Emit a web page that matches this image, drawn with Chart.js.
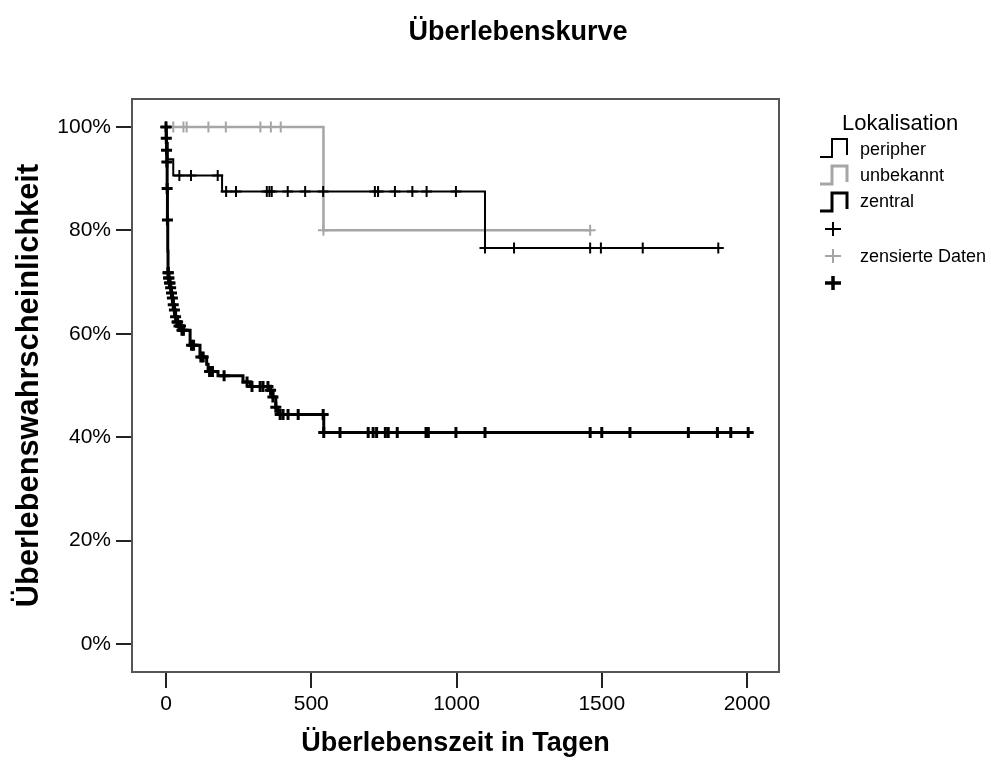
<!DOCTYPE html>
<html>
<head>
<meta charset="utf-8">
<script src="https://cdn.jsdelivr.net/npm/chart.js@4.4.0/dist/chart.umd.min.js"></script>
<style>
  html, body { margin: 0; padding: 0; background: #ffffff; }
  #wrap { position: relative; width: 991px; height: 760px; }
  #chart { position: absolute; left: 0; top: 0; }
  #overlay { position: absolute; left: 0; top: 0; pointer-events: none; }
  #overlay text { font-family: 'Liberation Sans', Arial, sans-serif; fill: #000; }
</style>
</head>
<body>
<div id="wrap">
  <canvas id="chart" width="991" height="760"></canvas>
  <svg id="overlay" width="991" height="760" xmlns="http://www.w3.org/2000/svg">
    <text x="518" y="31" text-anchor="middle" dominant-baseline="central" font-size="27" font-weight="bold">Überlebenskurve</text>
    <text x="842" y="122" dominant-baseline="central" font-size="22">Lokalisation</text>
    <path d="M820,157 H832 V139 H847 V155" fill="none" stroke="#000" stroke-width="2"/>
    <text x="860" y="149" dominant-baseline="central" font-size="18">peripher</text>
    <path d="M820,184 H832 V166 H847 V182" fill="none" stroke="#a6a6a6" stroke-width="3"/>
    <text x="860" y="175" dominant-baseline="central" font-size="18">unbekannt</text>
    <path d="M820,211 H832 V193 H847 V209" fill="none" stroke="#000" stroke-width="3"/>
    <text x="860" y="201" dominant-baseline="central" font-size="18">zentral</text>
    <path d="M825,229 H841 M833,222 V236" stroke="#000" stroke-width="2"/>
    <path d="M825,256 H841 M833,249 V263" stroke="#a6a6a6" stroke-width="2"/>
    <text x="860" y="256" dominant-baseline="central" font-size="18">zensierte Daten</text>
    <path d="M825,283 H841 M833,276 V290" stroke="#000" stroke-width="3.5"/>
  </svg>
</div>
<script>
const FONT = "'Liberation Sans', Arial, sans-serif";

// Tick values
const xTickValues = [0, 500, 1000, 1500, 2000];
const yTickValues = [0, 20, 40, 60, 80, 100];

// Series: peripher (times in days, survival in %)
const periphTimes = [0, 1, 6, 25, 193, 1098, 1901];
const periphSurv  = [100, 96.9, 93.75, 90.6, 87.5, 76.6, 76.6];
const periphCensored = [0, 46, 86, 178, 207, 241, 347, 356, 364, 419, 479, 541, 719, 730, 788, 848, 897, 998, 1098, 1198, 1460, 1497, 1641, 1901];

// Series: unbekannt
const unbekTimes = [0, 542, 1460];
const unbekSurv  = [100, 80, 80];
const unbekCensored = [0, 25, 60, 71, 146, 206, 325, 361, 395, 542, 1460];

// Series: zentral
const zentTimes = [0, 1, 2, 3, 4, 5, 6, 7, 9, 12, 16, 19, 22, 25, 29, 33, 38, 45, 55, 83, 117, 140, 145, 179, 265, 290, 355, 368, 378, 385, 543, 2004];
const zentSurv  = [100, 97.8, 95.5, 93.2, 88.1, 82.0, 76.0, 71.8, 70.8, 69.8, 68.9, 67.9, 66.9, 65.6, 64.6, 63.3, 62.3, 61.5, 60.7, 57.8, 55.5, 54.1, 52.7, 51.9, 50.7, 49.8, 49.1, 47.8, 45.8, 44.4, 40.9, 40.9];
const zentCensored = [0, 1, 2, 3, 4, 5, 7, 8, 9, 10, 12, 14, 16, 19, 22, 25, 29, 33, 38, 40, 45, 50, 55, 60, 88, 95, 120, 128, 150, 160, 200, 279, 296, 324, 334, 351, 360, 368, 378, 393, 403, 420, 455, 541, 543, 599, 696, 713, 725, 755, 765, 796, 895, 900, 903, 998, 1098, 1460, 1500, 1597, 1798, 1898, 1944, 2004];

function stepValue(times, surv, t) {
  let v = surv[0];
  for (let i = 0; i < times.length; i++) if (times[i] <= t) v = surv[i];
  return v;
}
function curve(times, surv) { return times.map((t, i) => ({ x: t, y: surv[i] })); }
function marks(times, surv, cens) { return cens.map(t => ({ x: t, y: stepValue(times, surv, t) })); }

const BLACK = '#000000';
const GREY = '#a6a6a6';

function stepDs(label, data, color, width, order) {
  return { label, data, borderColor: color, backgroundColor: color, borderWidth: width,
           stepped: 'before', pointRadius: 0, pointHoverRadius: 0, fill: false, order };
}
function markDs(label, data, color, width, order) {
  return { label, data, showLine: false, pointStyle: 'cross', pointRadius: 5.5, pointHoverRadius: 5.5,
           pointBorderColor: color, pointBackgroundColor: color, pointBorderWidth: width,
           borderColor: color, backgroundColor: color, order };
}

const boxPlugin = {
  id: 'box',
  afterDatasetsDraw(chart) {
    const a = chart.chartArea, ctx = chart.ctx;
    ctx.save();
    ctx.strokeStyle = '#555555';
    ctx.lineWidth = 2;
    ctx.strokeRect(a.left, a.top, a.right - a.left, a.bottom - a.top);
    ctx.restore();
  }
};

new Chart(document.getElementById('chart'), {
  type: 'line',
  data: {
    datasets: [
      stepDs('zentral', curve(zentTimes, zentSurv), BLACK, 3, 0),
      markDs('zentral zensiert', marks(zentTimes, zentSurv, zentCensored), BLACK, 3, 0),
      stepDs('peripher', curve(periphTimes, periphSurv), BLACK, 2, 1),
      markDs('peripher zensiert', marks(periphTimes, periphSurv, periphCensored), BLACK, 2, 1),
      stepDs('unbekannt', curve(unbekTimes, unbekSurv), GREY, 2.5, 2),
      markDs('unbekannt zensiert', marks(unbekTimes, unbekSurv, unbekCensored), GREY, 2, 2)
    ]
  },
  options: {
    responsive: false,
    animation: false,
    devicePixelRatio: 1,
    layout: { padding: { top: 99, right: 212, bottom: 0, left: 0 } },
    plugins: { legend: { display: false }, tooltip: { enabled: false }, title: { display: false } },
    scales: {
      x: {
        type: 'linear', min: -117, max: 2110,
        afterBuildTicks: s => { s.ticks = xTickValues.map(v => ({ value: v })); },
        afterFit: s => { s.height = 88; },
        ticks: { font: { family: FONT, size: 21 }, color: '#000', padding: 4, maxRotation: 0, autoSkip: false,
                 callback: v => String(v) },
        grid: { display: true, drawOnChartArea: false, drawTicks: true, tickLength: 16, color: '#222', lineWidth: 2 },
        border: { display: false },
        title: { display: true, text: 'Überlebenszeit in Tagen', color: '#000',
                 font: { family: FONT, size: 27, weight: 'bold' }, padding: { top: 0, bottom: 0 } }
      },
      y: {
        type: 'linear', min: -5.4, max: 105.4,
        afterBuildTicks: s => { s.ticks = yTickValues.map(v => ({ value: v })); },
        afterFit: s => { s.width = 132; },
        ticks: { font: { family: FONT, size: 21 }, color: '#000', padding: 5, autoSkip: false,
                 callback: v => v + '%' },
        grid: { display: true, drawOnChartArea: false, drawTicks: true, tickLength: 16, color: '#222', lineWidth: 2 },
        border: { display: false },
        title: { display: true, text: 'Überlebenswahrscheinlichkeit', color: '#000',
                 font: { family: FONT, size: 30.8, weight: 'bold' }, padding: { top: 11.5, bottom: 0 } }
      }
    }
  },
  plugins: [boxPlugin]
});
</script>
</body>
</html>
